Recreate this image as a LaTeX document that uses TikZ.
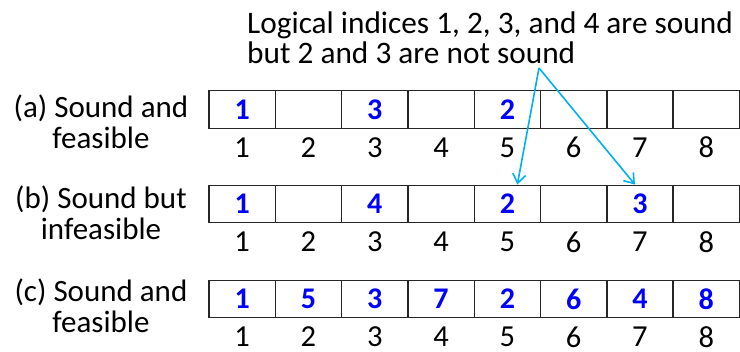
\documentclass[tikz,border=0pt]{standalone}
\usepackage{fontspec}
\setmainfont{Carlito}
\usetikzlibrary{arrows.meta}
\definecolor{ptrblue}{RGB}{0,176,240}
\definecolor{valblue}{RGB}{0,0,255}

\begin{document}
\begin{tikzpicture}[x=1pt, y=-1pt, cell/.style={draw=black!85, line width=1.4pt, minimum width=66.3pt, minimum height=37.5pt, inner sep=0pt, text=valblue, font=\fontsize{30}{30}\selectfont\bfseries}, idx/.style={inner sep=0pt, font=\fontsize{30.5}{30}\selectfont}, lab/.style={align=center, inner sep=0pt, font=\fontsize{31}{31}\selectfont}, ptr/.style={draw=ptrblue, line width=1.6pt, -{Straight Barb[length=9pt, width=13pt]}}]
	\useasboundingbox (0,0) rectangle (740,352);
	% three arrays of eight slots
	\foreach \r/\y/\vals in {a/109.5/{1,,3,,2,,,}, b/204/{1,,4,,2,,3,}, c/299/{1,5,3,7,2,6,4,8}} {
		\foreach \v [count=\i] in \vals {
			\node[cell] (\r\i) at ({242.15+66.3*(\i-1)},\y) {\v};
			\node[idx] (\r i\i) at ({242.15+66.3*(\i-1)},{\y+38}) {\i};
		}
	}
	\node[lab] (laba) at (101,122) {(a) Sound and\\feasible};
	\node[lab] (labb) at (101,213) {(b) Sound but\\infeasible};
	\node[lab] (labc) at (101,306) {(c) Sound and\\feasible};
	\node[lab, align=left, anchor=north west, font=\fontsize{31.3}{30}\selectfont] (note) at (247,12) {Logical indices 1, 2, 3, and 4 are sound\\but 2 and 3 are not sound};
	\coordinate (src) at (539,68);
	\draw[ptr] (src) -- ([xshift=10pt]b5.north);
	\draw[ptr] (src) -- ([xshift=-5pt]b7.north);
\end{tikzpicture}
\end{document}
